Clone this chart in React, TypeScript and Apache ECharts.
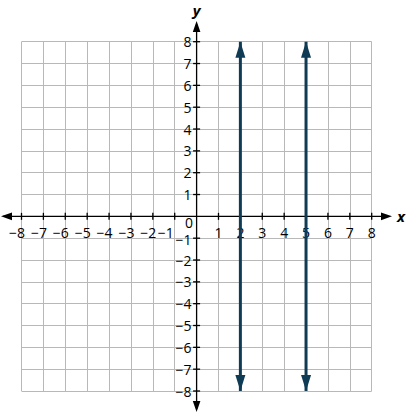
import React, { useEffect, useRef } from "react";
import * as echarts from "echarts";

// tick values and their printed labels (0 is printed once, at the origin)
const xTicks = [-8, -7, -6, -5, -4, -3, -2, -1, 0, 1, 2, 3, 4, 5, 6, 7, 8];
const yTicks = [-8, -7, -6, -5, -4, -3, -2, -1, 0, 1, 2, 3, 4, 5, 6, 7, 8];
const xTickLabels = ["−8", "−7", "−6", "−5", "−4", "−3", "−2", "−1", "", "1", "2", "3", "4", "5", "6", "7", "8"];
const yTickLabels = ["−8", "−7", "−6", "−5", "−4", "−3", "−2", "−1", "", "1", "2", "3", "4", "5", "6", "7", "8"];

// vertical lines x = 2 and x = 5, drawn from y = -8 to y = 8
const lineXs = [2, 5];
const lineYs = [-8, 8];

const FONT = "'Open Sans', 'Noto Sans', sans-serif";
const LINE_COLOR = "#0f3b54";
const GRID_COLOR = "#b8b8b8";

const App: React.FC = () => {
  const chartRef = useRef<HTMLDivElement | null>(null);

  useEffect(() => {
    if (!chartRef.current) return;
    const chart = echarts.init(chartRef.current, undefined, { renderer: "svg" });

    const axisCommon = {
      type: "value",
      min: -8,
      max: 8,
      interval: 1,
      axisLine: { show: false },
      axisTick: { show: false },
      axisLabel: { show: false },
      splitLine: { show: true, lineStyle: { color: GRID_COLOR, width: 1 } },
    };

    chart.setOption({
      animation: false,
      grid: { left: 21.5, top: 41.7, right: 34.3, bottom: 22, containLabel: false },
      xAxis: axisCommon,
      yAxis: axisCommon,
      series: lineXs.map((x) => ({
        type: "line",
        showSymbol: true,
        symbol: "triangle",
        symbolSize: [10, 16],
        lineStyle: { color: LINE_COLOR, width: 3 },
        itemStyle: { color: LINE_COLOR, borderWidth: 0 },
        emphasis: { disabled: true },
        z: 5,
        data: [
          { value: [x, lineYs[0]], symbolRotate: 180, symbolOffset: [0, "-50%"] },
          { value: [x, lineYs[1]], symbolOffset: [0, "50%"] },
        ],
      })),
    });

    // axes through the origin: lines with arrows, crossing ticks, tick labels and names
    const [x0, y0] = chart.convertToPixel({ gridIndex: 0 }, [0, 0]) as number[];
    const axisStyle = { stroke: "#000", lineWidth: 1.3 };
    const labelFont = `14px ${FONT}`;
    const graphics: any[] = [
      { type: "line", shape: { x1: 3, y1: y0, x2: 388, y2: y0 }, style: axisStyle, z: 3 },
      { type: "line", shape: { x1: x0, y1: 24, x2: x0, y2: 409 }, style: axisStyle, z: 3 },
      { type: "polygon", shape: { points: [[1, y0], [12, y0 - 3.8], [12, y0 + 3.8]] }, style: { fill: "#000" }, z: 3 },
      { type: "polygon", shape: { points: [[392, y0], [381, y0 - 3.8], [381, y0 + 3.8]] }, style: { fill: "#000" }, z: 3 },
      { type: "polygon", shape: { points: [[x0, 21], [x0 - 3.8, 32], [x0 + 3.8, 32]] }, style: { fill: "#000" }, z: 3 },
      { type: "polygon", shape: { points: [[x0, 412], [x0 - 3.8, 401], [x0 + 3.8, 401]] }, style: { fill: "#000" }, z: 3 },
      {
        type: "text",
        x: 397,
        y: y0,
        style: { text: "x", font: `italic bold 15px ${FONT}`, fill: "#000", align: "left", verticalAlign: "middle" },
        z: 3,
      },
      {
        type: "text",
        x: x0,
        y: 10,
        style: { text: "y", font: `italic bold 15px ${FONT}`, fill: "#000", align: "center", verticalAlign: "middle" },
        z: 3,
      },
      {
        type: "text",
        x: x0 - 7.5,
        y: y0 + 6,
        style: { text: "0", font: labelFont, fill: "#000", align: "center", verticalAlign: "middle" },
        z: 3,
      },
    ];
    xTicks.forEach((v, i) => {
      if (v === 0) return;
      const [px] = chart.convertToPixel({ gridIndex: 0 }, [v, 0]) as number[];
      graphics.push({ type: "line", shape: { x1: px, y1: y0 - 3.5, x2: px, y2: y0 + 3.5 }, style: axisStyle, z: 3 });
      // negative labels: digit under the tick, minus sign to its left; -1 pushed away from the 0
      const dx = v === -1 ? -9 : v < 0 ? -4.5 : 0;
      graphics.push({
        type: "text",
        x: px + dx,
        y: y0 + 16,
        style: { text: xTickLabels[i], font: labelFont, fill: "#000", align: "center", verticalAlign: "middle" },
        z: 3,
      });
    });
    yTicks.forEach((v, i) => {
      if (v === 0) return;
      const [, py] = chart.convertToPixel({ gridIndex: 0 }, [0, v]) as number[];
      graphics.push({ type: "line", shape: { x1: x0 - 3.5, y1: py, x2: x0 + 3.5, y2: py }, style: axisStyle, z: 3 });
      graphics.push({
        type: "text",
        x: x0 - 5,
        y: v === -1 ? py + 1 : py,
        style: { text: yTickLabels[i], font: labelFont, fill: "#000", align: "right", verticalAlign: "middle" },
        z: 3,
      });
    });
    chart.setOption({ graphic: graphics });

    return () => {
      chart.dispose();
    };
  }, []);

  return (
    <div
      ref={chartRef}
      style={{ position: "absolute", left: 0, top: 0, width: "406px", height: "413px", background: "#fff" }}
    />
  );
};

export default App;
